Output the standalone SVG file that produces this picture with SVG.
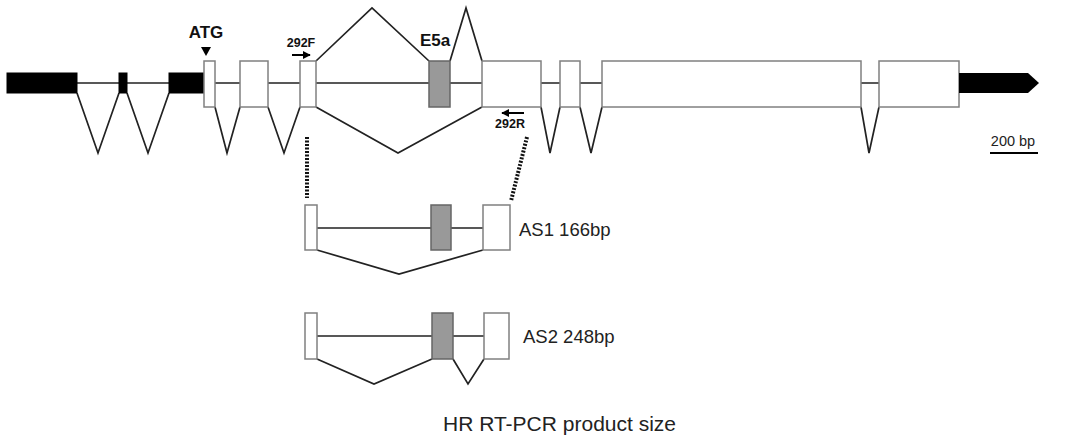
<svg xmlns="http://www.w3.org/2000/svg" width="1066" height="438" viewBox="0 0 1066 438">
<style>
.ex{fill:#fff;stroke:#808080;stroke-width:1.5}
.alt{fill:#999;stroke:#666;stroke-width:1.5}
.utr{fill:#000;stroke:#000;stroke-width:1}
.ln{fill:none;stroke:#222;stroke-width:1.7}
.dot{fill:none;stroke:#111;stroke-width:4;stroke-dasharray:2 1.5}
.b{font-family:"Liberation Sans",Arial,sans-serif;font-weight:bold;fill:#111}
.t{font-family:"Liberation Sans",Arial,sans-serif;fill:#222}
</style>
<defs>
<marker id="ah" viewBox="0 0 10 10" refX="9" refY="5" markerWidth="4" markerHeight="4" orient="auto">
<path d="M0,0 L10,5 L0,10 z" fill="#000"/>
</marker>
</defs>
<rect width="1066" height="438" fill="#fff"/>
<g id="connectors">
<path class="ln" d="M77,83H119M127,83H169M215,83H240M268,83H300M316,83H429M450,83H482M541,83H560M580,83H602M861,83H879"/>
<path class="ln" d="M77,93L98,153L119,93M127,93L148,153L169,93M215,107L227,153L240,107M268,107L284,153L300,107M316,61L372,8L429,61M450,61L466,8L482,61M316,107L398,153L482,107M541,107L550,153L560,107M580,107L591,153L602,107M861,107L869,153L879,107"/>
<path class="dot" d="M307,137V198M527,137L511,201"/>
<path class="ln" d="M317,228H431M451,228H483M317,250L399,274L483,250"/>
<path class="ln" d="M317,336H432M453,336H484M317,359L374,384L432,359M453,359L468,384L484,359"/>
<line x1="292" y1="55" x2="310" y2="55" stroke="#000" stroke-width="2" marker-end="url(#ah)"/>
<line x1="524" y1="113" x2="502" y2="113" stroke="#000" stroke-width="2" marker-end="url(#ah)"/>
</g>
<g id="gene">
<rect class="utr" x="7" y="73" width="70" height="20"/>
<rect class="utr" x="119" y="73" width="8" height="20"/>
<rect class="utr" x="169" y="73" width="35" height="20"/>
<rect class="ex" x="204" y="61" width="11" height="46"/>
<rect class="ex" x="240" y="61" width="28" height="46"/>
<rect class="ex" x="300" y="61" width="16" height="46"/>
<rect class="alt" x="429" y="61" width="21" height="46"/>
<rect class="ex" x="482" y="61" width="59" height="46"/>
<rect class="ex" x="560" y="61" width="20" height="46"/>
<rect class="ex" x="602" y="61" width="259" height="46"/>
<rect class="ex" x="879" y="61" width="80" height="46"/>
<path d="M959,73H1028L1039,83L1028,93H959z" fill="#000"/>
</g>
<g id="labels">
<text class="b" x="206" y="38" font-size="17" text-anchor="middle">ATG</text>
<path d="M201,47H211L206,56z" fill="#000"/>
<text class="b" x="301" y="47" font-size="12.5" text-anchor="middle">292F</text>
<text class="b" x="435" y="46" font-size="17" text-anchor="middle">E5a</text>
<text class="b" x="510" y="128" font-size="12.5" text-anchor="middle">292R</text>
</g>
<g id="scale">
<text class="t" x="1013" y="146" font-size="14.5" text-anchor="middle">200 bp</text>
<line x1="990" y1="153" x2="1038" y2="153" stroke="#000" stroke-width="2"/>
</g>
<g id="as1">
<rect class="ex" x="305" y="205" width="12" height="45"/>
<rect class="alt" x="431" y="205" width="20" height="45"/>
<rect class="ex" x="483" y="205" width="27" height="45"/>
<text class="t" x="519" y="236" font-size="18.5">AS1 166bp</text>
</g>
<g id="as2">
<rect class="ex" x="305" y="313" width="12" height="46"/>
<rect class="alt" x="432" y="313" width="21" height="46"/>
<rect class="ex" x="484" y="313" width="25" height="46"/>
<text class="t" x="523" y="343" font-size="18.5">AS2 248bp</text>
</g>
<text id="caption" class="t" x="443" y="431" font-size="21">HR RT-PCR product size</text>
</svg>
